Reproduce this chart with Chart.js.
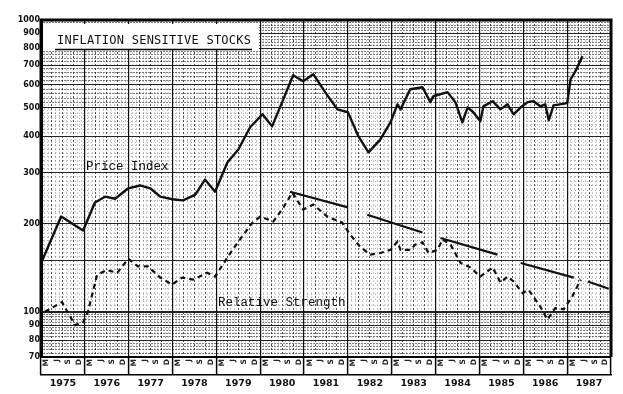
<!DOCTYPE html>
<html>
<head>
<meta charset="utf-8">
<script src="https://cdn.jsdelivr.net/npm/chart.js@4/dist/chart.umd.min.js"></script>
<style>
  html, body { margin: 0; padding: 0; background: #fff; }
  #wrap { width: 623px; height: 394px; }
</style>
</head>
<body>
<div id="wrap"><canvas id="chart" width="623" height="394"></canvas></div>
<script>
// values (x = fractional year, y = index on log paper)
const priceDates = [1975.02, 1975.46, 1975.96, 1976.23, 1976.46, 1976.69, 1976.99, 1977.26, 1977.49, 1977.72,
  1978.0, 1978.24, 1978.52, 1978.74, 1978.97, 1979.25, 1979.5, 1979.77, 1980.05, 1980.27,
  1980.5, 1980.75, 1980.98, 1981.21, 1981.48, 1981.76, 1982.0, 1982.24, 1982.47, 1982.74,
  1982.97, 1983.13, 1983.2, 1983.42, 1983.7, 1983.88, 1983.95, 1984.27, 1984.45, 1984.61,
  1984.73, 1984.86, 1985.02, 1985.09, 1985.3, 1985.48, 1985.64, 1985.78, 1985.94, 1986.1,
  1986.23, 1986.39, 1986.5, 1986.58, 1986.69, 1987.0, 1987.08, 1987.19, 1987.35];
const priceValues = [149, 212, 190, 237, 248, 244, 265, 271, 265, 248,
  243, 241, 252, 284, 258, 325, 360, 429, 475, 432,
  523, 647, 617, 652, 566, 494, 483, 399, 352, 390,
  446, 514, 494, 579, 588, 523, 548, 566, 523, 446,
  502, 483, 450, 506, 527, 494, 514, 475, 502, 523,
  527, 506, 514, 453, 510, 519, 627, 668, 752];

const rsDates = [1975.09, 1975.48, 1975.62, 1975.78, 1975.96, 1976.07, 1976.28, 1976.5, 1976.74, 1976.99,
  1977.21, 1977.44, 1977.72, 1977.99, 1978.22, 1978.47, 1978.79, 1978.97, 1979.27, 1979.5,
  1979.82, 1980.0, 1980.3, 1980.53, 1980.73, 1980.98, 1981.21, 1981.53, 1981.87, 1982.05,
  1982.28, 1982.51, 1982.74, 1982.97, 1983.13, 1983.2, 1983.42, 1983.54, 1983.7, 1983.84,
  1984.04, 1984.16, 1984.34, 1984.57, 1984.79, 1985.02, 1985.3, 1985.48, 1985.64, 1985.78,
  1985.98, 1986.12, 1986.39, 1986.55, 1986.73, 1986.92, 1987.12, 1987.31];
const rsValues = [100, 108, 99, 90, 92, 100, 134, 139, 136, 152,
  143, 143, 131, 124, 131, 129, 136, 132, 155, 174,
  202, 212, 204, 228, 256, 224, 233, 212, 202, 184,
  167, 157, 159, 163, 174, 163, 163, 170, 173, 159,
  163, 177, 170, 147, 142, 132, 142, 126, 132, 127,
  116, 119, 104, 94, 103, 102, 113, 129];

// broken trend line over relative strength: pairs of (start, end)
const trendDates = [1980.68, 1982.0, 1982.44, 1983.7, 1984.11, 1985.41, 1985.94, 1987.15, 1987.47, 1987.95];
const trendValues = [258, 228, 215, 187, 179, 157, 147, 131, 127, 120];

const yLabelValues = [70, 80, 90, 100, 200, 300, 400, 500, 600, 700, 800, 900, 1000];
const yMajorLines = [70, 80, 90, 100, 150, 200, 300, 400, 500, 600, 700, 800, 900, 1000];
const yearLabels = ['1975', '1976', '1977', '1978', '1979', '1980', '1981', '1982', '1983', '1984', '1985', '1986', '1987'];
const monthMarks = ['M', 'J', 'S', 'D'];

const titleText = 'INFLATION SENSITIVE STOCKS';
const priceLabel = 'Price Index';
const rsLabel = 'Relative Strength';

function toPoints(xs, ys) {
    return xs.map((x, i) => ({x: x, y: ys[i]}));
}
function trendPoints() {
    let pts = [];
    for (let i = 0; i < trendDates.length; i += 2) {
        if (i > 0) pts.push({x: (trendDates[i - 1] + trendDates[i]) / 2, y: null});
        pts.push({x: trendDates[i], y: trendValues[i]});
        pts.push({x: trendDates[i + 1], y: trendValues[i + 1]});
    }
    return pts;
}

// graph paper rulings on the log axis
function yGridValues() {
    let v = [];
    for (let a = 70; a < 100; a += 2) v.push(a);
    for (let a = 100; a < 200; a += 5) v.push(a);
    for (let a = 200; a < 500; a += 10) v.push(a);
    for (let a = 500; a <= 1000; a += 20) v.push(a);
    return v;
}

// text fitted to a given width by spreading the letters
function spacedText(ctx, text, x, y, width) {
    ctx.letterSpacing = '0px';
    const w = ctx.measureText(text).width;
    const extra = (width - w) / (text.length - 1);
    ctx.letterSpacing = extra + 'px';
    ctx.fillText(text, x, y);
    ctx.letterSpacing = '0px';
}

const frame = {
    id: 'frame',
    afterDraw(chart) {
        const {ctx, chartArea: a} = chart;
        ctx.save();
        ctx.strokeStyle = '#000';
        ctx.lineWidth = 3;
        ctx.beginPath();
        ctx.moveTo(a.left, a.bottom);
        ctx.lineTo(a.left, a.top);
        ctx.lineTo(a.right, a.top);
        ctx.lineTo(a.right, a.bottom);
        ctx.stroke();

        // title block
        ctx.fillStyle = '#fff';
        ctx.fillRect(a.left + 2, a.top + 4, 216, 26);
        ctx.fillStyle = '#111';
        ctx.font = '12px "DejaVu Sans Mono"';
        ctx.textBaseline = 'alphabetic';
        ctx.textAlign = 'left';
        spacedText(ctx, titleText, 57, 44, 194);
        ctx.lineWidth = 1.5;
        ctx.beginPath();
        ctx.moveTo(55, 49.5);
        ctx.lineTo(252, 49.5);
        ctx.stroke();

        ctx.font = '12.5px "Liberation Mono"';
        ctx.fillText(priceLabel, 86, 170);
        ctx.fillText(rsLabel, 218, 306);
        ctx.restore();
    }
};

const isYear = v => Math.abs(v - Math.round(v)) < 1e-6;
const isQuarter = v => Math.abs(v * 4 - Math.round(v * 4)) < 1e-6;
const isMonth = v => Math.abs(v * 12 - Math.round(v * 12)) < 1e-6;
const denseBand = v => v >= 500 || v < 100;

const chart = new Chart(document.getElementById('chart').getContext('2d'), {
    type: 'line',
    data: {
        datasets: [
            {
                label: priceLabel,
                data: toPoints(priceDates, priceValues),
                borderColor: '#111',
                borderWidth: 2.4,
                pointRadius: 0,
                tension: 0,
                borderJoinStyle: 'round'
            },
            {
                label: rsLabel,
                data: toPoints(rsDates, rsValues),
                borderColor: '#111',
                borderWidth: 2.2,
                borderDash: [5, 4],
                pointRadius: 0,
                tension: 0
            },
            {
                label: 'Trend',
                data: trendPoints(),
                borderColor: '#111',
                borderWidth: 2.2,
                pointRadius: 0,
                tension: 0,
                spanGaps: false
            }
        ]
    },
    options: {
        responsive: false,
        animation: false,
        layout: {padding: {left: 0, right: 12, top: 20, bottom: 5}},
        plugins: {
            legend: {display: false},
            tooltip: {enabled: false},
            title: {display: false}
        },
        scales: {
            y: {
                type: 'logarithmic',
                min: 70,
                max: 1000,
                afterBuildTicks: s => { s.ticks = yGridValues().map(v => ({value: v})); },
                afterFit: s => { s.width = 41; },
                ticks: {
                    autoSkip: false,
                    padding: 1,
                    color: '#111',
                    font: {family: 'DejaVu Sans', size: 8, weight: 'bold'},
                    callback: v => yLabelValues.includes(v) ? String(v) : ''
                },
                grid: {
                    drawTicks: false,
                    color: c => {
                        const v = c.tick.value;
                        if (yMajorLines.includes(v)) return '#222';
                        return denseBand(v) ? 'rgba(40,40,40,0.6)' : 'rgba(60,60,60,0.4)';
                    },
                    lineWidth: c => c.tick.value === 100 ? 2 : 1
                },
                border: {
                    display: true,
                    color: '#000',
                    width: 3,
                    dash: c => {
                        if (!c.tick || yMajorLines.includes(c.tick.value)) return [];
                        return denseBand(c.tick.value) ? [2, 1] : [1, 3];
                    }
                }
            },
            x: {
                type: 'linear',
                position: 'bottom',
                min: 1975,
                max: 1988,
                weight: 0,
                afterBuildTicks: s => {
                    s.ticks = [];
                    for (let i = 0; i <= 13 * 24; i++) s.ticks.push({value: 1975 + i / 24});
                },
                afterFit: s => { s.height = 18; },
                ticks: {
                    autoSkip: false,
                    minRotation: 90,
                    maxRotation: 90,
                    padding: -16,
                    color: '#222',
                    font: {family: 'DejaVu Sans', size: 7.5, weight: 'bold'},
                    callback: (v, i) => i % 6 === 3 ? monthMarks[Math.floor(i / 6) % 4] : ''
                },
                grid: {
                    drawTicks: true,
                    tickLength: 18,
                    tickColor: c => isYear(c.tick.value) ? '#000' : 'rgba(0,0,0,0)',
                    tickWidth: 1.5,
                    color: c => {
                        const v = c.tick.value;
                        if (isYear(v)) return '#111';
                        if (isQuarter(v)) return 'rgba(20,20,20,0.75)';
                        if (isMonth(v)) return 'rgba(60,60,60,0.3)';
                        return 'rgba(0,0,0,0)';
                    },
                    lineWidth: c => isYear(c.tick.value) ? 1.2 : 1
                },
                border: {
                    display: true,
                    color: '#000',
                    width: 2,
                    dash: c => (c.tick && !isYear(c.tick.value)) ? [2, 2] : []
                }
            },
            xy: {
                type: 'linear',
                position: 'bottom',
                min: 1975,
                max: 1988,
                weight: 1,
                afterBuildTicks: s => { s.ticks = yearLabels.map((y, i) => ({value: 1975.5 + i})); },
                afterFit: s => { s.height = 14; },
                ticks: {
                    autoSkip: false,
                    maxRotation: 0,
                    padding: 3,
                    color: '#111',
                    font: {family: 'DejaVu Sans', size: 9.5, weight: 'bold'},
                    callback: (v, i) => yearLabels[i]
                },
                grid: {display: false, drawTicks: false},
                border: {display: true, color: '#000', width: 1.5}
            }
        }
    },
    plugins: [frame]
});
</script>
</body>
</html>
